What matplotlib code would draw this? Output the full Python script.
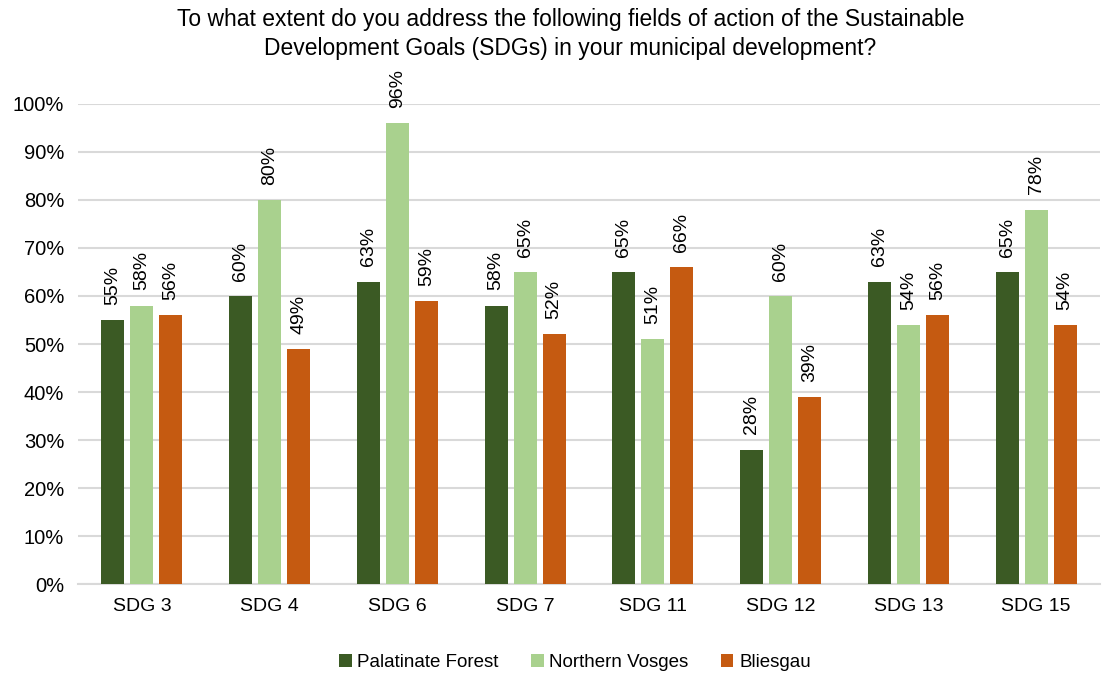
import numpy as np
import matplotlib.pyplot as plt

plt.rcParams['font.family'] = ['Liberation Sans', 'DejaVu Sans']

categories = ["SDG 3", "SDG 4", "SDG 6", "SDG 7", "SDG 11", "SDG 12", "SDG 13", "SDG 15"]
palatinate = [55, 60, 63, 58, 65, 28, 63, 65]
vosges = [58, 80, 96, 65, 51, 60, 54, 78]
bliesgau = [56, 49, 59, 52, 66, 39, 56, 54]

series = [("Palatinate Forest", palatinate, "#3B5A24"),
          ("Northern Vosges", vosges, "#A9D18E"),
          ("Bliesgau", bliesgau, "#C55A11")]

fig = plt.figure(figsize=(11.1, 6.73), dpi=100)
ax = fig.add_axes([0.0703, 0.1322, 0.9207, 0.7133])

x = np.arange(len(categories))
w = 0.18
step = 0.227
for i, (name, vals, col) in enumerate(series):
    pos = x + (i - 1) * step
    bars = ax.bar(pos, np.array(vals) / 100, w, color=col, label=name, zorder=3)
    for b, v in zip(bars, vals):
        ax.annotate("%d%%" % v, (b.get_x() + b.get_width() / 2, b.get_height()),
                    xytext=(0, 11), textcoords="offset points", rotation=90,
                    ha="center", va="bottom", fontsize=14, color="#000000")

ax.set_xlim(-0.5, len(categories) - 0.5)
ax.set_ylim(0, 1.0)
ax.set_yticks(np.arange(0, 1.01, 0.1))
ax.set_yticklabels(["%d%%" % (t * 10) for t in range(11)], fontsize=14.5)
ax.set_xticks(x)
ax.set_xticklabels(categories, fontsize=14)
ax.tick_params(axis="y", length=0, pad=10)
ax.tick_params(axis="x", length=0, pad=10)
ax.grid(axis="y", color="#D9D9D9", linewidth=1.5, zorder=0)
for s in ["top", "right", "left"]:
    ax.spines[s].set_visible(False)
ax.spines["bottom"].set_color("#D9D9D9")
ax.spines["bottom"].set_linewidth(1.5)

fig.suptitle("To what extent do you address the following fields of action of the Sustainable\n"
             "Development Goals (SDGs) in your municipal development?",
             fontsize=16.5, y=0.988, x=0.514, linespacing=1.35)
fig.legend(loc="lower center", ncol=3, frameon=False, fontsize=13.5,
           bbox_to_anchor=(0.518, -0.022), handlelength=0.65, handleheight=0.65,
           columnspacing=1.75, handletextpad=0.3)

fig.savefig("out.png", dpi=100)
